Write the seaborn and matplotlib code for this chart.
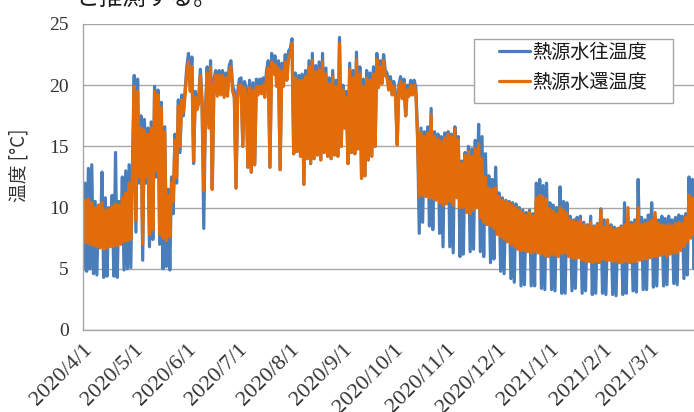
import matplotlib
matplotlib.use("Agg")
import matplotlib.pyplot as plt
import matplotlib.transforms as mtransforms
from matplotlib.patches import Rectangle
import pandas as pd
import seaborn as sns

# ---- series names / colours ----
SERIES = ["熱源水往温度", "熱源水還温度"]
COLORS = ["#4A7EBB", "#E36C0A"]

# ---- daily readings (alternating peak / trough samples), 2020-04-01 .. 2021-03-31 ----
SUPPLY_APR = [4.9, 12.0, 4.8, 13.2, 5.0, 13.5, 4.6, 10.5, 4.5, 10.2,
              6.9, 12.9, 4.3, 10.8, 4.4, 10.0, 7.0, 11.0, 4.4, 14.5,
              4.3, 10.5, 7.2, 12.5, 4.9, 13.0, 5.0, 13.5, 5.1, 13.8]
RETURN_APR = [7.2, 10.6, 7.1, 10.7, 7.0, 10.4, 6.9, 10.0, 6.8, 10.2,
              6.7, 10.4, 6.6, 9.8, 6.7, 9.9, 6.8, 10.1, 6.8, 10.3,
              6.9, 10.2, 7.0, 10.8, 7.2, 11.2, 7.3, 12.0, 7.4, 13.0]

SUPPLY_MAY = [20.8, 8.0, 20.5, 12.0, 17.5, 5.7, 17.2, 12.0, 16.5, 6.8,
              17.0, 7.4, 19.9, 12.5, 19.6, 7.0, 18.6, 5.0, 16.6, 5.2,
              11.5, 4.9, 12.5, 9.5, 16.0, 12.0, 18.8, 14.5, 19.2, 17.5, 19.6]
RETURN_MAY = [19.9, 9.0, 19.5, 12.5, 16.5, 7.0, 16.3, 12.5, 16.0, 7.8,
              16.5, 8.2, 19.5, 13.0, 19.2, 7.8, 18.2, 7.5, 16.2, 7.3,
              11.0, 7.6, 12.0, 10.5, 15.5, 12.5, 18.3, 15.0, 18.8, 17.8, 19.2]

SUPPLY_JUN = [21.5, 22.6, 20.0, 22.3, 13.6, 19.5, 18.5, 19.0, 21.3, 18.8,
              8.3, 18.0, 21.5, 16.8, 22.0, 11.5, 20.5, 21.2, 19.6, 21.2,
              19.7, 21.2, 19.5, 21.0, 19.6, 21.6, 22.0, 20.0, 19.5, 11.6]
RETURN_JUN = [21.0, 21.9, 19.5, 21.5, 13.8, 19.0, 18.0, 18.5, 20.8, 18.3,
              11.4, 17.5, 21.0, 16.5, 21.5, 11.5, 20.0, 20.8, 19.1, 20.8,
              19.2, 20.8, 19.0, 20.6, 19.1, 21.1, 21.5, 19.5, 19.0, 11.6]

SUPPLY_JUL = [19.5, 20.5, 20.6, 15.0, 20.3, 19.8, 13.3, 20.4, 12.9, 20.2,
              13.5, 20.5, 19.8, 20.5, 19.9, 20.6, 19.6, 21.2, 22.0, 13.3,
              22.6, 21.5, 22.4, 20.5, 22.0, 13.1, 21.8, 20.5, 22.5, 21.0, 22.8]
RETURN_JUL = [19.0, 20.0, 20.0, 15.0, 19.8, 19.2, 13.3, 19.8, 12.9, 19.6,
              13.5, 19.9, 19.2, 19.9, 19.3, 20.0, 19.0, 20.6, 21.4, 13.3,
              21.9, 20.9, 21.7, 19.9, 21.4, 13.1, 21.2, 19.9, 21.9, 20.4, 22.2]

SUPPLY_AUG = [23.0, 23.8, 14.4, 21.0, 14.6, 20.8, 14.2, 20.9, 11.9, 21.2,
              14.0, 22.0, 13.6, 22.6, 14.0, 21.6, 14.3, 21.9, 13.9, 22.6,
              14.5, 21.4, 14.2, 20.6, 14.0, 21.2, 14.3, 20.4, 14.2, 23.9, 15.0]
RETURN_AUG = [22.5, 23.4, 14.4, 20.6, 14.6, 20.4, 14.2, 20.4, 11.9, 20.7,
              14.0, 21.5, 13.6, 22.0, 14.0, 21.1, 14.3, 21.3, 13.9, 21.9,
              14.5, 20.9, 14.2, 20.1, 14.0, 20.7, 14.3, 19.9, 14.2, 23.4, 15.0]

SUPPLY_SEP = [20.0, 16.5, 19.5, 13.6, 21.8, 14.5, 21.2, 14.4, 22.7, 14.8,
              21.5, 12.4, 20.5, 12.6, 21.2, 13.9, 21.0, 14.2, 21.5, 15.0,
              22.6, 20.2, 22.0, 20.6, 22.5, 21.2, 21.0, 20.0, 20.7, 19.6]
RETURN_SEP = [19.6, 16.5, 19.0, 13.6, 21.3, 14.5, 20.6, 14.4, 22.1, 14.8,
              20.9, 12.4, 19.9, 12.6, 20.6, 13.9, 20.4, 14.2, 20.9, 15.0,
              22.1, 19.8, 21.5, 20.1, 22.0, 20.8, 20.6, 19.6, 20.3, 19.2]

SUPPLY_OCT = [20.3, 19.4, 15.3, 20.0, 20.7, 19.3, 20.5, 17.5, 20.0, 19.5,
              20.4, 19.6, 20.4, 19.8, 16.0, 7.9, 16.5, 8.8, 16.2, 11.2,
              16.6, 8.5, 18.1, 8.2, 16.2, 10.9, 16.0, 7.9, 15.8, 6.8, 16.1]
RETURN_OCT = [19.9, 19.0, 15.1, 19.6, 20.3, 18.9, 20.1, 17.5, 19.6, 19.1,
              20.0, 19.2, 20.0, 19.4, 15.6, 10.9, 16.1, 11.0, 15.8, 10.9,
              16.1, 10.8, 17.6, 10.7, 15.8, 10.6, 15.6, 10.4, 15.4, 10.2, 15.7]

SUPPLY_NOV = [10.6, 16.2, 6.8, 16.0, 6.3, 16.6, 11.1, 15.8, 6.0, 13.8,
              6.2, 14.5, 9.9, 15.0, 6.4, 14.8, 6.6, 15.5, 10.3, 16.8,
              6.4, 15.8, 6.0, 14.4, 8.9, 12.6, 5.5, 12.3, 5.8, 13.3]
RETURN_NOV = [10.3, 16.0, 10.5, 15.8, 10.2, 16.4, 10.8, 15.5, 10.0, 13.6,
              10.0, 14.3, 9.6, 14.6, 9.5, 14.2, 9.8, 14.8, 10.0, 15.2,
              9.2, 14.0, 8.8, 12.5, 8.6, 11.6, 8.5, 11.5, 8.3, 11.6]

SUPPLY_DEC = [8.1, 11.2, 4.8, 10.8, 4.6, 10.6, 7.5, 10.5, 4.2, 10.4,
              3.9, 10.3, 6.9, 10.0, 3.6, 9.8, 3.7, 9.6, 6.7, 9.8,
              3.6, 9.5, 3.6, 12.0, 6.6, 12.3, 3.4, 11.8, 3.3, 12.0, 6.3]
RETURN_DEC = [7.8, 10.9, 7.6, 10.6, 7.4, 10.5, 7.2, 10.4, 7.0, 10.2,
              6.8, 10.0, 6.6, 9.8, 6.5, 9.6, 6.5, 9.4, 6.4, 9.6,
              6.3, 9.3, 6.4, 10.8, 6.3, 11.0, 6.2, 10.9, 6.1, 10.7, 6.0]

SUPPLY_JAN = [10.4, 3.3, 10.2, 3.2, 10.0, 6.3, 11.7, 3.0, 10.5, 3.0,
              10.4, 6.3, 9.3, 3.2, 9.0, 3.4, 9.2, 6.2, 9.3, 3.0,
              8.8, 3.2, 8.6, 5.9, 9.3, 2.9, 8.5, 3.0, 8.7, 5.8, 9.9]
RETURN_JAN = [9.9, 6.2, 9.7, 6.1, 9.5, 6.0, 10.0, 6.2, 9.8, 6.3,
              9.6, 6.0, 9.0, 5.9, 8.9, 5.8, 8.8, 5.9, 9.0, 5.7,
              8.6, 5.6, 8.5, 5.6, 8.8, 5.5, 8.4, 5.6, 8.6, 5.5, 9.8]

SUPPLY_FEB = [3.0, 9.0, 2.9, 8.3, 6.0, 8.6, 2.9, 8.4, 2.8, 8.3,
              5.8, 8.5, 2.9, 10.4, 3.0, 8.6, 5.8, 8.8, 3.2, 9.0,
              3.1, 12.3, 6.0, 9.2, 3.3, 9.0, 3.3, 9.4]
RETURN_FEB = [5.8, 8.4, 5.7, 9.0, 5.7, 8.4, 5.6, 8.2, 5.6, 8.3,
              5.5, 8.4, 5.5, 8.6, 5.6, 10.0, 5.5, 8.6, 5.6, 8.7,
              5.6, 10.0, 5.7, 8.6, 5.8, 8.7, 5.8, 8.8]

SUPPLY_MAR = [6.2, 10.4, 3.5, 9.2, 3.6, 9.0, 6.4, 9.3, 3.6, 9.1,
              3.7, 9.3, 6.5, 9.0, 3.8, 9.2, 3.7, 9.4, 6.8, 9.3,
              4.2, 9.5, 4.5, 12.5, 7.8, 12.3, 5.0, 11.5, 4.6, 12.4, 7.9]
RETURN_MAR = [5.9, 9.0, 6.0, 9.6, 6.0, 8.7, 6.1, 8.6, 6.2, 8.5,
              6.0, 8.6, 6.2, 8.5, 6.3, 8.7, 6.3, 8.8, 6.5, 8.7,
              6.8, 9.2, 7.2, 11.0, 7.5, 10.8, 7.8, 10.5, 7.4, 11.2, 7.6]

SUPPLY = (SUPPLY_APR + SUPPLY_MAY + SUPPLY_JUN + SUPPLY_JUL + SUPPLY_AUG + SUPPLY_SEP
          + SUPPLY_OCT + SUPPLY_NOV + SUPPLY_DEC + SUPPLY_JAN + SUPPLY_FEB + SUPPLY_MAR)
RETURN = (RETURN_APR + RETURN_MAY + RETURN_JUN + RETURN_JUL + RETURN_AUG + RETURN_SEP
          + RETURN_OCT + RETURN_NOV + RETURN_DEC + RETURN_JAN + RETURN_FEB + RETURN_MAR)

DATES = pd.date_range("2020-04-01", periods=len(SUPPLY), freq="D")
assert len(SUPPLY) == len(RETURN) == 365

TICK_DATES = pd.date_range("2020-04-01", "2021-03-01", freq="MS")
TICK_LABELS = ["2020/4/1", "2020/5/1", "2020/6/1", "2020/7/1", "2020/8/1", "2020/9/1",
               "2020/10/1", "2020/11/1", "2020/12/1", "2021/1/1", "2021/2/1", "2021/3/1"]
Y_TICKS = [0, 5, 10, 15, 20, 25]

df = pd.concat([
    pd.DataFrame({"date": DATES, "temp": SUPPLY, "series": SERIES[0]}),
    pd.DataFrame({"date": DATES, "temp": RETURN, "series": SERIES[1]}),
], ignore_index=True)

# ---- style ----
sns.set_style("white")
plt.rcParams["font.family"] = ["Noto Sans CJK JP", "DejaVu Sans"]
GRID = "#A6A6A6"
TEXT = "#333333"

W, H = 694, 412
fig = plt.figure(figsize=(W / 100, H / 100), dpi=100)

# plot area: left edge at x=83px, bottom at y=330px, top at y=24px; runs past the right edge
ax = fig.add_axes([83.3 / W, (H - 330) / H, 619.3 / W, 306 / H])

sns.lineplot(data=df, x="date", y="temp", hue="series", hue_order=SERIES,
             palette=COLORS, linewidth=2.3, estimator=None, legend=False, ax=ax)

ax.set_xlim(pd.Timestamp("2020-04-01"), pd.Timestamp("2021-04-01"))
ax.set_ylim(0, 25)
ax.set_yticks(Y_TICKS)
ax.set_yticklabels([str(v) for v in Y_TICKS], family="Liberation Serif",
                   fontsize=14, color=TEXT)
ax.set_xticks(TICK_DATES)
ax.set_xticklabels(TICK_LABELS, family="Liberation Serif", fontsize=16, color=TEXT,
                   rotation=45, ha="right", va="top", rotation_mode="anchor")
shift = mtransforms.ScaledTranslation(6 / 72, -4 / 72, fig.dpi_scale_trans)
for lbl in ax.get_xticklabels():
    lbl.set_transform(lbl.get_transform() + shift)

ax.set_xlabel("")
ax.set_ylabel("温度 [°C]", fontsize=13.5, color=TEXT)
ax.yaxis.set_label_coords(-0.087, 0.54)

ax.grid(axis="y", color=GRID, linewidth=1.0)
ax.grid(axis="x", visible=False)
ax.set_axisbelow(True)
for side in ("top", "right"):
    ax.spines[side].set_visible(False)
for side in ("left", "bottom"):
    ax.spines[side].set_color(GRID)
    ax.spines[side].set_linewidth(1.0)
ax.tick_params(axis="both", direction="out", length=4.5, width=0.8, color=GRID,
               pad=3)
ax.tick_params(axis="y", pad=6)

# legend with its box
fig.add_artist(Rectangle((474 / W, 1 - 103 / H), 199 / W, 64 / H,
                         transform=fig.transFigure, facecolor="white",
                         edgecolor=GRID, linewidth=1.0, zorder=1))
handles = ax.get_lines()[:2]
leg = fig.legend(handles, SERIES, loc="upper left",
                 bbox_to_anchor=(499 / W, 1 - 42 / H), bbox_transform=fig.transFigure,
                 frameon=False, fontsize=13.8, handlelength=1.6, handletextpad=0.15,
                 labelspacing=0.45, borderpad=0, borderaxespad=0)
leg.set_zorder(2)
for t in leg.get_texts():
    t.set_color("#1A1A1A")

# continuation of the surrounding text, cut at the top edge
fig.text(75 / W, 1 - 6 / H, "と推測する。", fontsize=17, va="baseline", ha="left",
         color="#1A1A1A")

fig.savefig("out.png", dpi=100)
